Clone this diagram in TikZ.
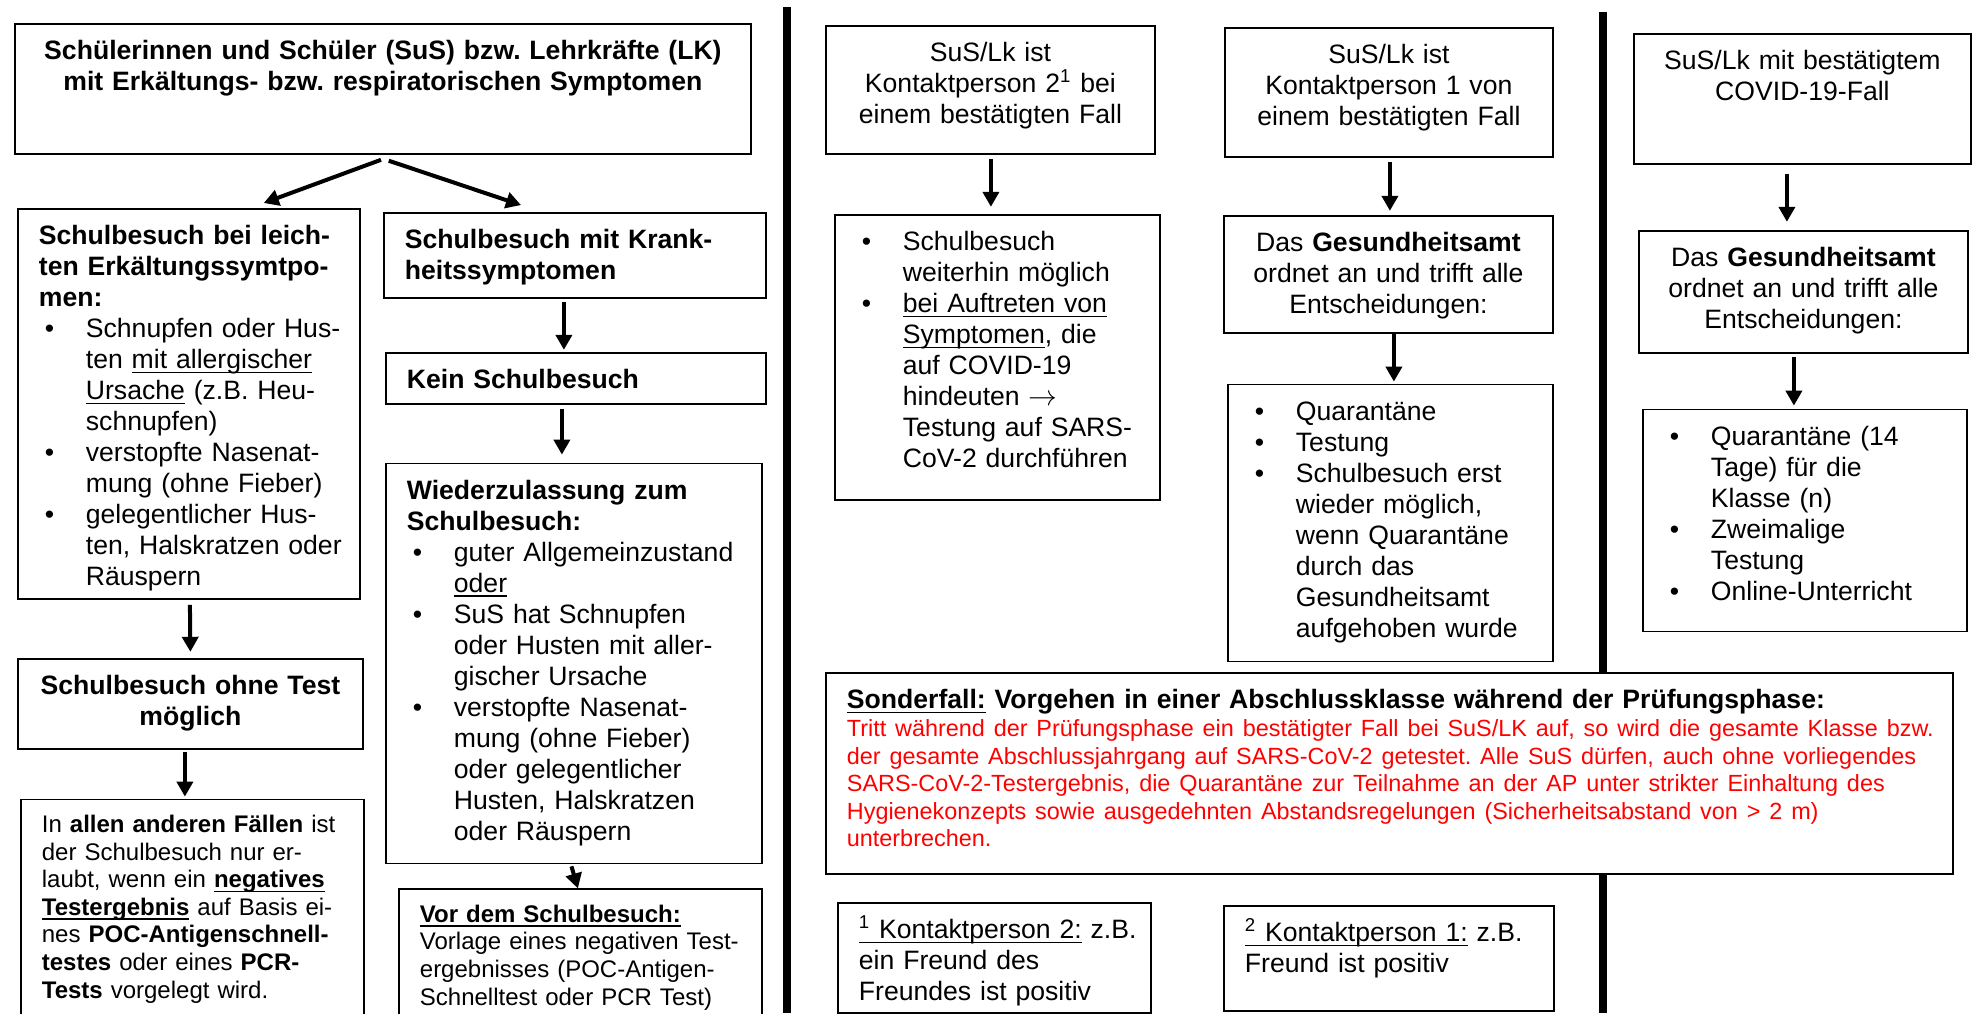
\documentclass[tikz,border=0pt]{standalone}
\usepackage{fontspec}
\setmainfont{Liberation Sans}
\usetikzlibrary{positioning,arrows.meta}
\frenchspacing

\newsavebox{\ulnbox}
\newcommand{\uln}[1]{\sbox{\ulnbox}{#1}\rlap{\rule[-2.2pt]{\wd\ulnbox}{.8pt}}\usebox{\ulnbox}}
\newcommand{\bitem}{\hangindent=23.5pt\hangafter=1\makebox[23.5pt][l]{\hspace{3pt}\textbullet}}

\begin{document}
\begin{tikzpicture}
    [ x = 1pt, y = -1pt
    , font = \fontsize{13.3}{15.5}\selectfont
    , > = {Triangle[length=7.5pt, width=8pt]}
    , box/.style =
      { draw, line width=.9pt, anchor=north west, fill=white
      , inner ysep=6pt, text height=12pt }
    , lbox/.style =
      { box, align=left, inner xsep=0pt
      , execute at begin node={\leftskip=10.5pt} }
    , cbox/.style =
      { box, align=center, inner xsep=4pt }
    , smalltext/.style =
      { font=\fontsize{12}{13.8}\selectfont, text height=10.5pt }
    , arrow/.style =
      { line width=2pt, ->, shorten <=1pt, shorten >=1pt }
    , divider/.style =
      { line width=4pt }
    ]
    \useasboundingbox (0,0) rectangle (986.5,506.5);

    \draw [divider] (393.25,3.5) -- (393.25,506.5);
    \draw [divider] (801.5,6) -- (801.5,506.5);

    \node [cbox, text width=360pt, text depth=41pt] (symptome) at (7,11.5)
      {\textbf{Schülerinnen und Schüler (SuS) bzw. Lehrkräfte (LK)}\\
       \textbf{mit Erkältungs- bzw. respiratorischen Symptomen}};
    \node [lbox, text width=171pt, text depth=171pt] (leicht) at (8.5,104)
      {\textbf{Schulbesuch bei leich-\newline ten Erkältungssymtpo-\newline men:}\par
       \bitem Schnupfen oder Hus-\newline ten \uln{mit allergischer}\newline\uln{Ursache} (z.B. Heu-\newline schnupfen)\par
       \bitem verstopfte Nasenat-\newline mung (ohne Fieber)\par
       \bitem gelegentlicher Hus-\newline ten, Halskratzen oder\newline Räuspern\par};
    \node [lbox, text width=191pt, text depth=18.5pt] (krank) at (191.5,106)
      {\textbf{Schulbesuch mit Krank-\newline heitssymptomen}};
    \node [lbox, text width=190pt, text depth=1.5pt, below=26.5pt of krank.south west, anchor=north west, xshift=1pt] (kein)
      {\textbf{Kein Schulbesuch}};
    \node [lbox, text width=188pt, text depth=176pt, below=29pt of kein.south west, anchor=north west] (wieder)
      {\textbf{Wiederzulassung zum\newline Schulbesuch:}\par
       \bitem guter Allgemeinzustand\newline\uln{oder}\par
       \bitem SuS hat Schnupfen\newline oder Husten mit aller-\newline gischer Ursache\par
       \bitem verstopfte Nasenat-\newline mung (ohne Fieber)\newline oder gelegentlicher\newline Husten, Halskratzen\newline oder Räuspern\par};
    \node [lbox, smalltext, text width=181.5pt, text depth=41.5pt, below=12pt of wieder.south west, anchor=north west, xshift=6.5pt] (vorher)
      {\textbf{\uln{Vor dem Schulbesuch:}}\newline Vorlage eines negativen Test-\newline ergebnisses (POC-Antigen-\newline Schnelltest oder PCR Test)};
    \node [cbox, text width=164.5pt, text depth=21pt, below=29pt of leicht.south west, anchor=north west] (ohnetest)
      {\textbf{Schulbesuch ohne Test\\möglich}};
    \node [lbox, smalltext, text width=171.5pt, text depth=85pt, below=24.5pt of ohnetest.south west, anchor=north west, xshift=1.5pt] (sonst)
      {In \textbf{allen anderen Fällen} ist\newline der Schulbesuch nur er-\newline laubt, wenn ein \textbf{\uln{negatives}}\newline\textbf{\uln{Testergebnis}} auf Basis ei-\newline nes \textbf{POC-Antigenschnell-}\newline\textbf{testes} oder eines \textbf{PCR-}\newline\textbf{Tests} vorgelegt wird.};

    \node [cbox, text width=156.5pt, text depth=40pt] (kp2) at (412.5,12.5)
      {SuS/Lk ist\\Kontaktperson 2\textsuperscript{1} bei\\einem bestätigten Fall};
    \node [lbox, text width=162.5pt, text depth=118.5pt, below=29.5pt of kp2.south west, anchor=north west, xshift=4.5pt] (kp2info)
      {\bitem Schulbesuch\newline weiterhin möglich\par
       \bitem \uln{bei Auftreten von}\newline\uln{Symptomen}, die\newline auf COVID-19\newline hindeuten $\rightarrow$\newline Testung auf SARS-\newline CoV-2 durchführen\par};
    \node [cbox, text width=156pt, text depth=40.5pt] (kp1) at (612,13.5)
      {SuS/Lk ist\\Kontaktperson 1 von\\einem bestätigten Fall};
    \node [cbox, text width=156.5pt, text depth=34.5pt, below=28.5pt of kp1.south west, anchor=north west, xshift=-.5pt] (amt1)
      {Das \textbf{Gesundheitsamt}\\ordnet an und trifft alle\\Entscheidungen:};
    \node [lbox, text width=162.5pt, text depth=114.5pt, below=25pt of amt1.south west, anchor=north west, xshift=2pt] (mass1)
      {\bitem Quarantäne\par
       \bitem Testung\par
       \bitem Schulbesuch erst\newline wieder möglich,\newline wenn Quarantäne\newline durch das\newline Gesundheitsamt\newline aufgehoben wurde\par};

    \node [cbox, text width=160.5pt, text depth=41pt] (fall) at (816.5,16.5)
      {SuS/Lk mit bestätigtem\\COVID-19-Fall};
    \node [cbox, text width=156.5pt, text depth=37pt, below=32.5pt of fall.south west, anchor=north west, xshift=2.5pt] (amt2)
      {Das \textbf{Gesundheitsamt}\\ordnet an und trifft alle\\Entscheidungen:};
    \node [lbox, text width=162pt, text depth=87pt, below=27.5pt of amt2.south west, anchor=north west, xshift=2pt] (mass2)
      {\bitem Quarantäne (14\newline Tage) für die\newline Klasse (n)\par
       \bitem Zweimalige\newline Testung\par
       \bitem Online-Unterricht\par};

    \node [lbox, text width=563.5pt, text depth=76.5pt] (sonderfall) at (412.5,336)
      {\textbf{\uln{Sonderfall:} Vorgehen in einer Abschlussklasse während der Prüfungsphase:}\par
       {\color{red}\fontsize{11.7}{13.8}\selectfont Tritt während der Prüfungsphase ein bestätigter Fall bei SuS/LK auf, so wird die gesamte Klasse bzw.\newline der gesamte Abschlussjahrgang auf SARS-CoV-2 getestet. Alle SuS dürfen, auch ohne vorliegendes\newline SARS-CoV-2-Testergebnis, die Quarantäne zur Teilnahme an der AP unter strikter Einhaltung des\newline Hygienekonzepts sowie ausgedehnten Abstandsregelungen (Sicherheitsabstand von > 2 m)\newline unterbrechen.\par}};
    \node [lbox, text width=156.5pt, text depth=31pt] (fn1) at (418.5,451)
      {\uln{\textsuperscript{1}\ Kontaktperson 2:} z.B.\newline ein Freund des\newline Freundes ist positiv};
    \node [lbox, text width=165pt, text depth=28.5pt] (fn2) at (611.5,452.5)
      {\uln{\textsuperscript{2}\ Kontaktperson 1:} z.B.\newline Freund ist positiv};

    \draw [arrow] ([yshift=-2.15pt]symptome.south) -- ([xshift=36.5pt,yshift=2.15pt]leicht.north);
    \draw [arrow] ([xshift=2pt,yshift=-2.65pt]symptome.south) -- ([xshift=-26pt,yshift=3.15pt]krank.north);
    \draw [arrow] ([xshift=-5.5pt,yshift=-.5pt]krank.south) -- ([xshift=-6pt]kein.north);
    \draw [arrow] ([xshift=-7pt,yshift=-1pt]kein.south) -- ([xshift=-6pt,yshift=3pt]wieder.north);
    \draw [arrow,shorten >=0pt] ([xshift=-1.5pt]wieder.south) -- ([xshift=-1.25pt]vorher.north);
    \draw [arrow] ([xshift=.5pt,yshift=-1.5pt]leicht.south) -- ([yshift=2pt]ohnetest.north);
    \draw [arrow] ([xshift=-2.75pt]ohnetest.south) -- ([xshift=-3.75pt]sonst.north);
    \draw [arrow] ([xshift=.25pt,yshift=-1pt]kp2.south) -- ([xshift=-3.25pt,yshift=2.5pt]kp2info.north);
    \draw [arrow] ([xshift=.5pt,yshift=-1pt]kp1.south) -- ([xshift=.75pt,yshift=1pt]amt1.north);
    \draw [arrow] ([xshift=2.75pt,yshift=1pt]amt1.south) -- ([xshift=1.75pt]mass1.north);
    \draw [arrow] ([xshift=-7.75pt,yshift=-3.5pt]fall.south) -- ([xshift=-8.25pt,yshift=3pt]amt2.north);
    \draw [arrow] ([xshift=-4.75pt,yshift=-.5pt]amt2.south) -- ([xshift=-5.5pt,yshift=.5pt]mass2.north);
\end{tikzpicture}
\end{document}
